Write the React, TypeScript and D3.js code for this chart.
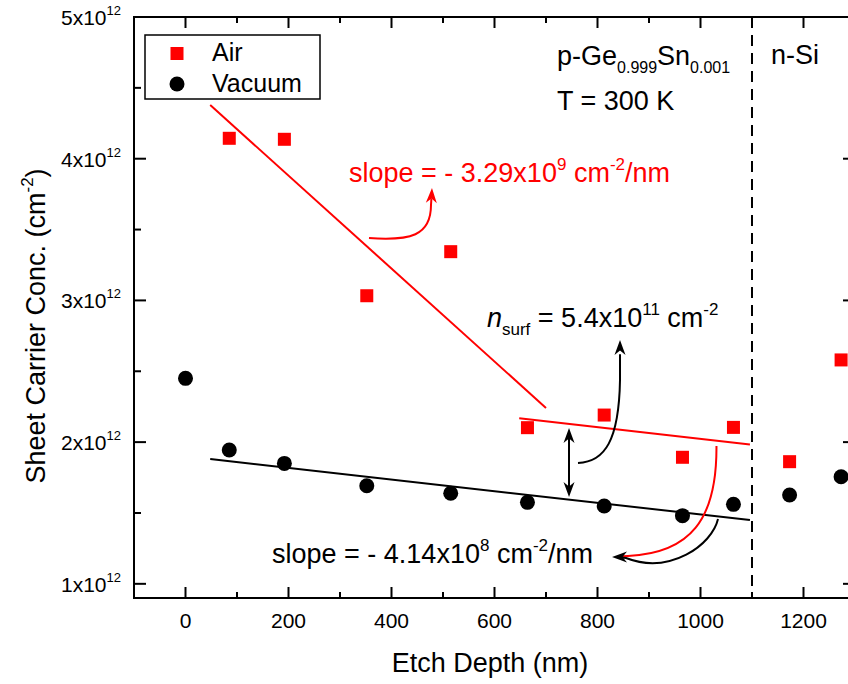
import React from 'react';
import * as d3 from 'd3';

const airDepth = [85, 192, 352, 515, 664, 813, 965, 1064, 1173, 1273];
const airConc = [4.144, 4.137, 3.033, 3.344, 2.102, 2.191, 1.893, 2.104, 1.862, 2.58];
const vacDepth = [0, 85, 192, 352, 515, 664, 813, 965, 1064, 1173, 1273];
const vacConc = [2.45, 1.944, 1.85, 1.692, 1.639, 1.575, 1.549, 1.481, 1.561, 1.627, 1.756];

const xMajor = [0, 200, 400, 600, 800, 1000, 1200];
const xMinor = [100, 300, 500, 700, 900, 1100, 1300];
const yMajor = [1, 2, 3, 4, 5];
const yMinor = [1.5, 2.5, 3.5, 4.5];

const airFitSteep = [[48, 4.379], [700, 2.241]];
const airFitShallow = [[648, 2.168], [1096, 1.984]];
const vacFit = [[48, 1.881], [1096, 1.45]];
const interfaceDepth = 1100;

const FONT = "'Liberation Sans', Arial, sans-serif";

export default function App() {
  const W = 848, H = 684;
  const x = d3.scaleLinear().domain([-100, 1300]).range([134, 855]);
  const y = d3.scaleLinear().domain([0.9, 5.0]).range([598, 17]);
  const [x0, x1] = x.range();
  const [y0, y1] = y.range();
  const line = d3.line<number[]>().x(d => x(d[0])).y(d => y(d[1]));

  const curve = (pts: number[][]) => {
    const p = d3.path();
    p.moveTo(x(pts[0][0]), y(pts[0][1]));
    p.bezierCurveTo(x(pts[1][0]), y(pts[1][1]), x(pts[2][0]), y(pts[2][1]), x(pts[3][0]), y(pts[3][1]));
    for (let i = 4; i < pts.length; i++) p.lineTo(x(pts[i][0]), y(pts[i][1]));
    return p.toString();
  };
  const head = (tip: number[], from: number[], len = 15, w = 5.5) => {
    const tx = x(tip[0]), ty = y(tip[1]);
    const fx = x(from[0]), fy = y(from[1]);
    const a = Math.atan2(ty - fy, tx - fx);
    const bx = tx - len * Math.cos(a), by = ty - len * Math.sin(a);
    const nx = -Math.sin(a) * w, ny = Math.cos(a) * w;
    const mx = tx - len * 0.7 * Math.cos(a), my = ty - len * 0.7 * Math.sin(a);
    return `M${tx},${ty}L${bx + nx},${by + ny}L${mx},${my}L${bx - nx},${by - ny}Z`;
  };

  const redArrow = [[356.3, 3.44], [435.9, 3.419], [476.7, 3.455], [476.7, 3.673], [477.5, 3.72]];
  const nsurfArrow = [[762.1, 1.853], [814.6, 1.86], [841.7, 2.015], [843.7, 2.438], [843.7, 2.62]];
  const redLong = [[1031, 1.973], [1032, 1.45], [979.6, 1.217], [859.2, 1.196], [840, 1.192]];
  const blackLong = [[1034, 1.457], [1022.3, 1.274], [940.8, 1.062], [855.3, 1.182], [840, 1.19]];

  const tickFont = 21;
  const annFont = 27;
  const supFont = 17;

  return (
    <svg width={W} height={H} style={{ position: 'absolute', left: 0, top: 0, background: '#fff' }} fontFamily={FONT}>
      <rect x={0} y={0} width={W} height={H} fill="#fff" />
      {/* fit lines */}
      <path d={line(airFitSteep)!} stroke="#ff0000" strokeWidth={2} fill="none" />
      <path d={line(airFitShallow)!} stroke="#ff0000" strokeWidth={2} fill="none" />
      <path d={line(vacFit)!} stroke="#000" strokeWidth={2} fill="none" />
      {/* interface */}
      <line x1={x(interfaceDepth)} x2={x(interfaceDepth)} y1={y1} y2={y0} stroke="#000" strokeWidth={2} strokeDasharray="11,7" />
      {/* data */}
      {airDepth.map((d, i) => (
        <rect key={'a' + i} x={x(d) - 6.5} y={y(airConc[i]) - 6.5} width={13} height={13} fill="#ff0000" />
      ))}
      {vacDepth.map((d, i) => (
        <circle key={'v' + i} cx={x(d)} cy={y(vacConc[i])} r={7.5} fill="#000" />
      ))}
      {/* arrows */}
      <path d={curve(redArrow)} stroke="#ff0000" strokeWidth={2} fill="none" />
      <path d={head([478.6, 3.793], [477.5, 3.70])} fill="#ff0000" />
      <path d={curve(nsurfArrow)} stroke="#000" strokeWidth={2} fill="none" />
      <path d={head([843.7, 2.721], [843.7, 2.6])} fill="#000" />
      <path d={curve(redLong)} stroke="#ff0000" strokeWidth={2} fill="none" />
      <path d={curve(blackLong)} stroke="#000" strokeWidth={2} fill="none" />
      <path d={head([828.2, 1.19], [860, 1.19])} fill="#000" />
      <line x1={x(744.7)} x2={x(744.7)} y1={y(2.05)} y2={y(1.66)} stroke="#000" strokeWidth={2} />
      <path d={head([744.7, 2.1], [744.7, 1.9])} fill="#000" />
      <path d={head([744.7, 1.613], [744.7, 1.8])} fill="#000" />

      {/* frame */}
      <rect x={x0} y={y1} width={x1 - x0} height={y0 - y1} fill="none" stroke="#000" strokeWidth={2} />
      {xMajor.map(t => (
        <g key={'xm' + t}>
          <line x1={x(t)} x2={x(t)} y1={y0} y2={y0 - 11} stroke="#000" strokeWidth={2} />
          <line x1={x(t)} x2={x(t)} y1={y1} y2={y1 + 11} stroke="#000" strokeWidth={2} />
          <text x={x(t)} y={628} textAnchor="middle" fontSize={tickFont}>{t}</text>
        </g>
      ))}
      {xMinor.map(t => (
        <g key={'xn' + t}>
          <line x1={x(t)} x2={x(t)} y1={y0} y2={y0 - 6} stroke="#000" strokeWidth={2} />
          <line x1={x(t)} x2={x(t)} y1={y1} y2={y1 + 6} stroke="#000" strokeWidth={2} />
        </g>
      ))}
      {yMajor.map(t => (
        <g key={'ym' + t}>
          <line x1={x0} x2={x0 + 12} y1={y(t)} y2={y(t)} stroke="#000" strokeWidth={2} />
          <line x1={x1} x2={x1 - 12} y1={y(t)} y2={y(t)} stroke="#000" strokeWidth={2} />
          <text x={121} y={y(t) + 8} textAnchor="end" fontSize={tickFont}>
            {t}x10<tspan fontSize={13} dy={-10}>12</tspan>
          </text>
        </g>
      ))}
      {yMinor.map(t => (
        <g key={'yn' + t}>
          <line x1={x0} x2={x0 + 7} y1={y(t)} y2={y(t)} stroke="#000" strokeWidth={2} />
          <line x1={x1} x2={x1 - 7} y1={y(t)} y2={y(t)} stroke="#000" strokeWidth={2} />
        </g>
      ))}

      {/* axis titles */}
      <text x={490} y={672} textAnchor="middle" fontSize={27}>Etch Depth (nm)</text>
      <text transform={`translate(45,326) rotate(-90)`} textAnchor="middle" fontSize={27}>
        Sheet Carrier Conc. (cm<tspan fontSize={supFont} dy={-12}>-2</tspan><tspan dy={12}>)</tspan>
      </text>

      {/* legend */}
      <rect x={145} y={35} width={175} height={64} fill="#fff" stroke="#000" strokeWidth={1.5} />
      <rect x={170.5} y={47} width={13} height={13} fill="#ff0000" />
      <circle cx={177} cy={84} r={7.5} fill="#000" />
      <text x={212} y={61} fontSize={25}>Air</text>
      <text x={212} y={92} fontSize={25}>Vacuum</text>

      {/* annotations */}
      <text x={557} y={65} fontSize={annFont}>
        p-Ge<tspan fontSize={16} dy={8}>0.999</tspan><tspan dy={-8}>Sn</tspan><tspan fontSize={16} dy={8}>0.001</tspan>
      </text>
      <text x={557} y={110} fontSize={annFont}>T = 300 K</text>
      <text x={771} y={64} fontSize={annFont}>n-Si</text>
      <text x={x(317.5)} y={y(3.836)} fontSize={annFont} fill="#ff0000">
        slope = - 3.29x10<tspan fontSize={supFont} dy={-12}>9</tspan><tspan dy={12}> cm</tspan><tspan fontSize={supFont} dy={-12}>-2</tspan><tspan dy={12}>/nm</tspan>
      </text>
      <text x={x(585.4)} y={y(2.812)} fontSize={annFont}>
        <tspan fontStyle="italic">n</tspan><tspan fontSize={supFont} dy={8}>surf</tspan><tspan dy={-8}> = 5.4x10</tspan><tspan fontSize={supFont} dy={-12}>11</tspan><tspan dy={12}> cm</tspan><tspan fontSize={supFont} dy={-12}>-2</tspan>
      </text>
      <text x={x(168)} y={y(1.147)} fontSize={annFont}>
        slope = - 4.14x10<tspan fontSize={supFont} dy={-12}>8</tspan><tspan dy={12}> cm</tspan><tspan fontSize={supFont} dy={-12}>-2</tspan><tspan dy={12}>/nm</tspan>
      </text>
    </svg>
  );
}
